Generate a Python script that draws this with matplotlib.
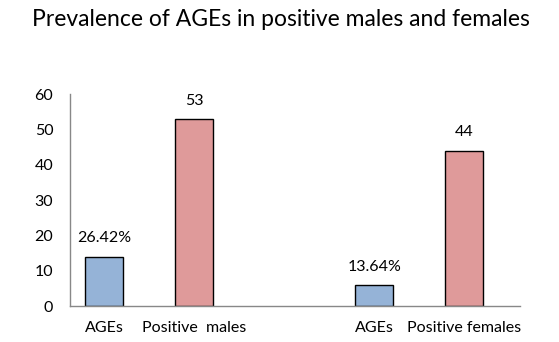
import matplotlib.pyplot as plt

# chart data
categories = ['AGEs', 'Positive  males', 'AGEs', 'Positive females']
positions = [0, 1, 3, 4]
values = [14, 53, 6, 44]
labels = ['26.42%', '53', '13.64%', '44']
bar_colors = ['#95B3D7', '#DF9A9A', '#95B3D7', '#DF9A9A']

plt.rcParams['font.family'] = ['Lato', 'DejaVu Sans']

fig = plt.figure(figsize=(5.59, 3.42), dpi=100)
ax = fig.add_axes([70 / 559, 36 / 342, 450 / 559, 212 / 342])

ax.bar(positions, values, width=0.42, color=bar_colors, edgecolor='black', linewidth=1.0)

for x, v, s in zip(positions, values, labels):
    ax.annotate(s, (x, v), xytext=(0, 8), textcoords='offset points',
                ha='center', va='bottom', fontsize=11.5, color='black')

ax.set_xlim(-0.378, 4.62)
ax.set_ylim(0, 60)
ax.set_yticks(range(0, 61, 10))
ax.set_xticks(positions)
ax.set_xticklabels(categories, fontsize=11.5)
ax.tick_params(axis='both', length=0, labelsize=11.5)
ax.tick_params(axis='x', pad=11)
ax.tick_params(axis='y', pad=12)

for side in ['top', 'right']:
    ax.spines[side].set_visible(False)
for side in ['left', 'bottom']:
    ax.spines[side].set_color('#888888')
    ax.spines[side].set_linewidth(1.0)

fig.text(281 / 559, 1 - 20 / 342, 'Prevalence of AGEs in positive males and females',
         ha='center', va='center', fontsize=16.5)

fig.savefig('out.png', dpi=100)
